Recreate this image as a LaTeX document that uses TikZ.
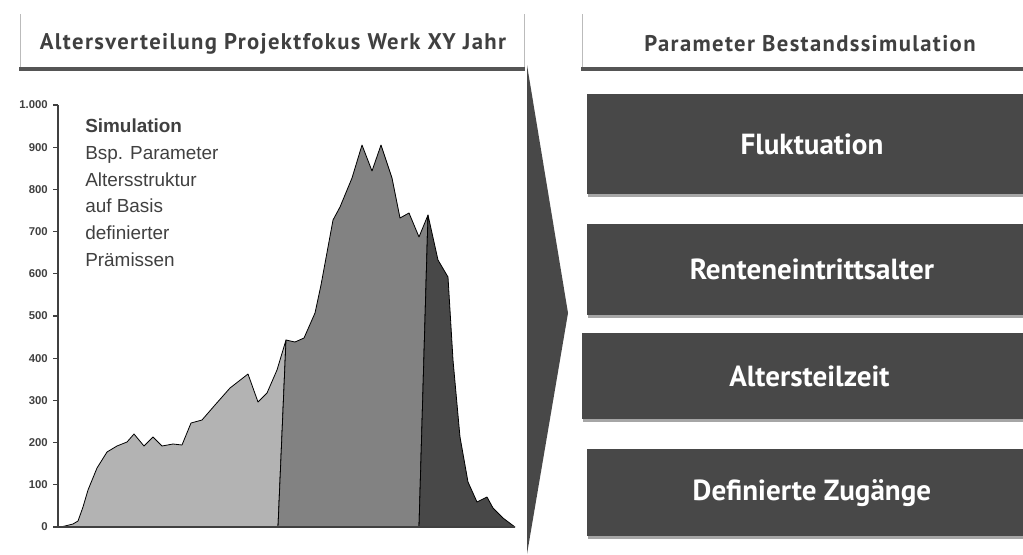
\documentclass[tikz,border=0pt]{standalone}
\usepackage{fontspec}
\setmainfont{PT Sans}
\newfontfamily\numfont{Liberation Sans}
\newfontfamily\titlefont[LetterSpace=6]{PT Sans}
\newfontfamily\notefont{Liberation Sans}
\usetikzlibrary{shadows}
\definecolor{boxgray}{HTML}{484848}
\definecolor{linegray}{HTML}{555555}
\definecolor{thingray}{HTML}{BBBBBB}
\definecolor{txtgray}{HTML}{404040}
\definecolor{lightfill}{HTML}{B3B3B3}
\definecolor{midfill}{HTML}{828282}
\definecolor{darkfill}{HTML}{484848}
\tikzset{
  headtitle/.style={font=\titlefont\fontsize{17}{20}\selectfont\bfseries, text=txtgray, inner sep=0pt},
  parambox/.style={fill=boxgray, draw=none, text=white, anchor=north west,
    font=\fontsize{21.8}{26}\selectfont\bfseries, inner sep=0pt,
    drop shadow={shadow xshift=0.8pt, shadow yshift=-2.2pt, opacity=0.35, fill=black}},
  ticklabel/.style={font=\numfont\fontsize{8.5}{10}\selectfont\bfseries, text=txtgray, anchor=east, inner sep=0pt},
  arealine/.style={draw=black, line width=0.6pt, line join=round},
  axisline/.style={draw=txtgray, line width=0.9pt},
}
\begin{document}
\begin{tikzpicture}[x=0.75pt,y=-0.75pt]
\useasboundingbox (0,0) rectangle (1023,554);
% ---------- headers ----------
\draw[thingray, line width=0.6pt] (20,14) -- (20,68);
\draw[thingray, line width=0.6pt] (524,14) -- (524,68);
\draw[linegray, line width=2.3pt] (19,69) -- (525,69);
\node[headtitle] (lefttitle) at (273,44) {Altersverteilung\ Projektfokus Werk XY Jahr};
\draw[thingray, line width=0.6pt] (582,14) -- (582,68);
\draw[linegray, line width=2.3pt] (581,69) -- (1023,69);
\node[headtitle] (righttitle) at (810,44) {Parameter\ Bestandssimulation};
% ---------- chevron ----------
\fill[boxgray] (527,65) -- (568,313) -- (527,554) -- cycle;
% ---------- parameter boxes ----------
\node[parambox, minimum width=436*0.75pt, minimum height=100*0.75pt] (b1) at (587,94) {\hspace*{10pt}Fluktuation};
\node[parambox, minimum width=436*0.75pt, minimum height=91*0.75pt] (b2) at (587,224) {\hspace*{10pt}Renteneintrittsalter};
\node[parambox, minimum width=441*0.75pt, minimum height=86*0.75pt] (b3) at (582,333) {\hspace*{10pt}Altersteilzeit};
\node[parambox, minimum width=436*0.75pt, minimum height=87*0.75pt] (b4) at (587,449) {\hspace*{10pt}Definierte Zugänge};
% ---------- chart areas ----------
\path[arealine, fill=lightfill] (60,527) -- (65,526) -- (73,524) -- (78,521) -- (83,507) -- (88,490) -- (97,468) -- (107,452) -- (117,446) -- (127,442) -- (134,434) -- (144,446) -- (153,437) -- (162,446) -- (173,444) -- (182,445) -- (191,423) -- (202,420) -- (215,405) -- (230,388) -- (248,374) -- (258,402) -- (267,393) -- (277,370) -- (286,340) -- (278,527) -- cycle;
\path[arealine, fill=midfill] (278,527) -- (286,340) -- (295,342) -- (304,338) -- (315,313) -- (321,285) -- (333,220) -- (340,207) -- (352,178) -- (362,145) -- (372,171) -- (381,145) -- (392,178) -- (400,218) -- (409,213) -- (419,237) -- (428,215) -- (419,527) -- cycle;
\path[arealine, fill=darkfill] (419,527) -- (428,215) -- (438,260) -- (448,277) -- (453,360) -- (460,437) -- (468,482) -- (477,502) -- (487,497) -- (493,508) -- (503,518) -- (515,527) -- cycle;
% ---------- axes ----------
\draw[axisline] (58,105) -- (58,527) -- (515,527);
\foreach \v/\lab in {0/0,100/100,200/200,300/300,400/400,500/500,600/600,700/700,800/800,900/900,1000/1.000}{
  \draw[axisline] (53,527-0.422*\v) -- (58,527-0.422*\v);
  \node[ticklabel] (t\v) at (48,527-0.422*\v) {\lab};
}
% ---------- annotation ----------
\node[anchor=north west, align=left, text=txtgray, inner sep=0pt,
      font=\notefont\fontsize{14.2}{20}\selectfont] (sim) at (85,119)
  {\textbf{Simulation}\\Bsp. Parameter\\Altersstruktur\\auf Basis\\definierter\\Prämissen};
\end{tikzpicture}
\end{document}
